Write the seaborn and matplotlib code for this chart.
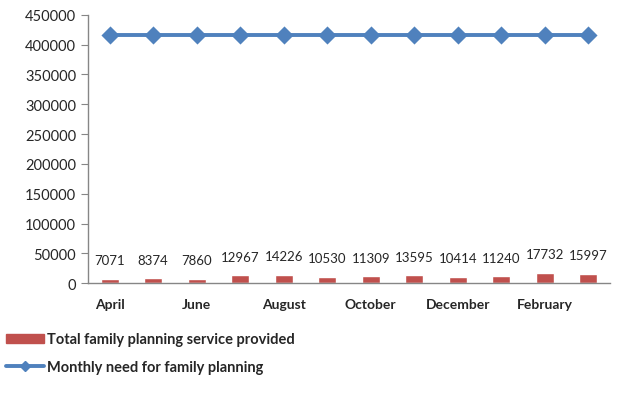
import pandas as pd
import numpy as np
import matplotlib.pyplot as plt
import seaborn as sb
from matplotlib.patches import Patch
from matplotlib.lines import Line2D

months = ["April", "May", "June", "July", "August", "September", "October",
          "November", "December", "January", "February", "March"]
provided = [7071, 8374, 7860, 12967, 14226, 10530, 11309, 13595, 10414, 11240, 17732, 15997]
need = [417000] * 12
shown_labels = ["April", "June", "August", "October", "December", "February"]

red = "#C0504D"
blue = "#4F81BD"

sb.set_style("white")
plt.rcParams["font.family"] = ["Lato", "DejaVu Sans"]

df = pd.DataFrame({"month": months, "provided": provided, "need": need})

fig = plt.figure(figsize=(6.17, 4.06), dpi=100)
ax = fig.add_axes([0.1426, 0.30, 0.846, 0.661])

sb.barplot(data=df, x="month", y="provided", order=months, color=red,
           width=0.42, saturation=1, ax=ax)
sb.pointplot(data=df, x="month", y="need", order=months, color=blue,
             markers="D", markersize=7.5, linewidth=2.8, ax=ax)

ax.bar_label(ax.containers[0], labels=[str(v) for v in provided],
             padding=9, fontsize=9.5)

ax.set_ylim(0, 450000)
ax.set_yticks(np.arange(0, 450001, 50000))
ax.set_yticklabels([str(v) for v in range(0, 450001, 50000)], fontsize=10.5)
ax.set_xlim(-0.5, 11.5)

pos = [months.index(m) for m in shown_labels]
ax.set_xticks(pos)
ax.set_xticklabels(shown_labels, fontsize=10, fontweight="bold")
ax.set_xticks(np.arange(-0.5, 12, 1), minor=True)
ax.tick_params(axis="x", which="major", length=0, pad=11)
ax.tick_params(axis="x", which="minor", length=5, color="#868686", direction="out")
ax.tick_params(axis="y", length=5, color="#868686", direction="out", left=True)
ax.set_xlabel("")
ax.set_ylabel("")

for s in ["top", "right"]:
    ax.spines[s].set_visible(False)
for s in ["left", "bottom"]:
    ax.spines[s].set_color("#868686")
    ax.spines[s].set_linewidth(1)

handles = [Patch(facecolor=red, edgecolor=red),
           Line2D([0], [0], color=blue, lw=2.8, marker="D", markersize=5)]
fig.legend(handles, ["Total family planning service provided",
                     "Monthly need for family planning"],
           loc="upper left", bbox_to_anchor=(0.0, 0.193), frameon=False,
           prop={"weight": "bold", "size": 10.5}, handlelength=2.6,
           handleheight=0.6, handletextpad=0.2, labelspacing=0.95,
           borderaxespad=0)

fig.savefig("out.png", dpi=100)
